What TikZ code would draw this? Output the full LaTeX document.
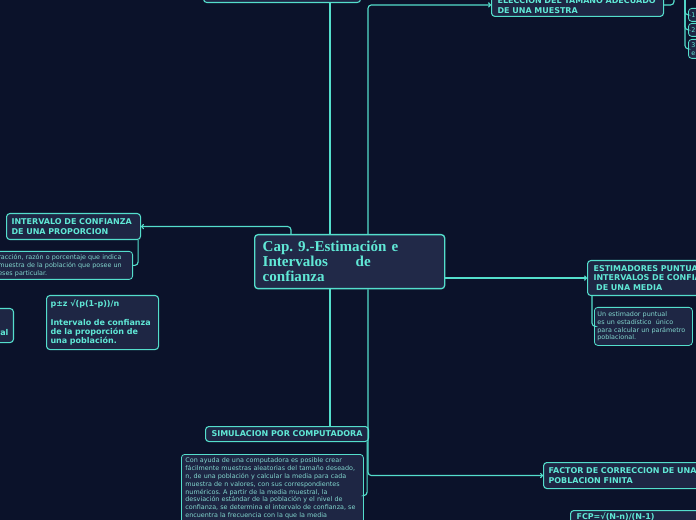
\documentclass[tikz,border=0pt]{standalone}
\usepackage{fontspec}
\newfontfamily\dvsans{DejaVu Sans}
\newfontfamily\lbserif{Liberation Serif}
\usetikzlibrary{arrows.meta,calc}
\definecolor{mmbg}{RGB}{11,18,42}
\definecolor{mmfill}{RGB}{30,38,68}
\definecolor{mmctr}{RGB}{33,41,72}
\definecolor{mmline}{RGB}{84,222,204}
\definecolor{mmtext}{RGB}{96,232,214}
\definecolor{mmnote}{RGB}{130,214,206}
\frenchspacing
\newcommand\hdfont{\dvsans\bfseries\fontsize{6}{7.5}\selectfont}
\newcommand\notefont{\dvsans\fontsize{4.8}{5.9}\selectfont}
\newcommand\ctrfont{\lbserif\bfseries\fontsize{11.3}{11.25}\selectfont}
\begin{document}
\begin{tikzpicture}[x=0.75pt,y=-0.75pt,
 topic/.style={draw=mmline,fill=mmfill,rounded corners=2.5pt,line width=0.8pt,text=mmtext,font=\hdfont,align=left,anchor=north west,inner xsep=3.75pt,inner ysep=2pt},
 note/.style={topic,line width=0.6pt,font=\notefont,text=mmnote},
 link/.style={draw=mmline,line width=0.85pt,rounded corners=2.5pt},
 arr/.style={link,-{To[length=2.2pt,width=4pt]}}]
\useasboundingbox (0,0) rectangle (696,520);
\fill[mmbg] (0,0) rectangle (696,520);
\clip (0,0) rectangle (696,520);
% central topic
\node[topic,line width=1pt,font=\ctrfont,fill=mmctr,text width=130.5pt,minimum height=40.5pt,inner xsep=6pt] (ctr) at (254,234) {Cap. 9.-Estimación e\\Intervalos\hspace{17pt} de\\confianza};
% left side
\node[topic,text width=93pt,minimum height=19.5pt] (prop) at (6,213) {INTERVALO DE CONFIANZA\\DE UNA PROPORCION};
\node[note,anchor=north east,text width=97pt,minimum height=21pt] (propnote) at (133,251) {racción, razón o porcentaje que indica\\muestra de la población que posee un\\eses particular.};
\node[topic,anchor=north east,text width=45pt,align=right,minimum height=25.5pt] (ral) at (14,308) {\mbox{}\\\mbox{}\\ral};
\node[topic,text width=78pt,inner xsep=3pt,minimum height=40.5pt,font=\dvsans\bfseries\fontsize{6}{7.1}\selectfont] (formula) at (46,295) {p±z √(p(1-p))/n\\\mbox{}\\Intervalo de confianza\\de la proporción de\\una población.};
% top
\node[topic,minimum width=117.75pt,minimum height=24pt] (topbox) at (203,-30) {};
\node[topic,text width=120pt,inner xsep=4.5pt,minimum height=16.5pt] (eleccion) at (491,-7) {ELECCION DEL TAMAÑO ADECUADO\\DE UNA MUESTRA};
\node[note,text=mmtext,text width=10pt,inner xsep=2.25pt,minimum height=9.75pt] (b1) at (688,8) {1};
\node[note,text=mmtext,text width=10pt,inner xsep=2.25pt,minimum height=9.75pt] (b2) at (688,23) {2};
\node[note,text=mmtext,text width=10pt,inner xsep=2.25pt,minimum height=14.25pt] (b3) at (688,39) {3\\e};
% right side
\node[topic,text width=200pt,inner xsep=4.5pt,minimum height=26.25pt,font=\dvsans\bfseries\fontsize{6}{7.1}\selectfont] (esti) at (587,260) {ESTIMADORES PUNTUALES E\\INTERVALOS DE CONFIANZA\\\hspace*{2pt}DE UNA MEDIA};
\node[note,text width=69pt,inner xsep=2.25pt,minimum height=28.5pt] (estinote) at (594,307) {Un estimador puntual\\es un estadístico\ \ único\\para calcular un parámetro\\poblacional.};
\node[topic,text width=200pt,minimum height=19.5pt,font=\dvsans\bfseries\fontsize{6}{8}\selectfont] (factor) at (543,462) {FACTOR DE CORRECCION DE UNA\\POBLACION FINITA};
\node[topic,text width=150pt,inner xsep=4.5pt] (fcp) at (570,510) {FCP=√(N-n)/(N-1)};
% bottom
\node[topic,minimum width=122.25pt,minimum height=11.25pt,align=center,inner sep=1pt] (sim) at (205,426) {SIMULACION POR COMPUTADORA};
\node[note,text width=130.5pt,inner xsep=3pt,inner ysep=2.5pt] (simnote) at (181,454) {Con ayuda de una computadora es posible crear\\fácilmente muestras aleatorias del tamaño deseado,\\n, de una población y calcular la media para cada\\muestra de n valores, con sus correspondientes\\numéricos. A partir de la media muestral, la\\desviación estándar de la población y el nivel de\\confianza, se determina el intervalo de confianza, se\\encuentra la frecuencia con la que la media\\\mbox{}\\\mbox{}};
% connectors
\coordinate (ctrT1) at ($(ctr.north west)+(37,0)$);
\coordinate (ctrT2) at ($(ctr.north west)+(76,0)$);
\coordinate (ctrT3) at ($(ctr.north west)+(114,0)$);
\coordinate (ctrB2) at ($(ctr.south west)+(76,0)$);
\coordinate (ctrB3) at ($(ctr.south west)+(114,0)$);
\coordinate (eltop) at (674,-10);
\coordinate (rtop) at (685,-10);
\draw[arr] (ctrT1) |- (prop.east);
\draw[link] (ctrT2) -- (ctrT2 |- topbox.south);
\draw[arr] (ctrT3) |- (eleccion.west);
\draw[link] (ctrB2) -- (ctrB2 |- sim.north);
\draw[arr] (ctrB3) |- (factor.west);
\draw[arr] (ctr.east |- esti.west) -- (esti.west);
\draw[link] ($(prop.south east)+(-3,0)$) |- (propnote.east);
\draw[link] ($(esti.south west)+(5,0)$) |- (estinote.west);
\draw[link] ($(sim.south east)+(-2,0)$) |- (simnote.east);
\draw[link] (eleccion.east) -| (eltop);
\draw[link] (rtop) |- (b1.west);
\draw[link] (rtop) |- (b2.west);
\draw[link] (rtop) |- (b3.west);
\end{tikzpicture}
\end{document}
